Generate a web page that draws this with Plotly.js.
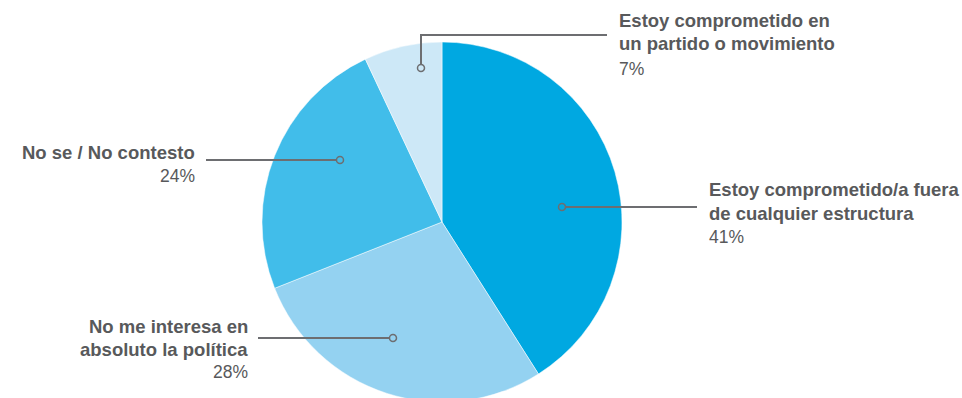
<!DOCTYPE html>
<html>
<head>
<meta charset="utf-8">
<script src="https://cdn.plot.ly/plotly-3.0.1.min.js"></script>
<style>
html,body{margin:0;padding:0;overflow:hidden;background:#fff;}
#chart{width:962px;height:402px;}
</style>
</head>
<body>
<div id="chart"></div>
<script>
// Data
const categories = [
  "Estoy comprometido/a fuera<br>de cualquier estructura",
  "No me interesa en<br>absoluto la política",
  "No se / No contesto",
  "Estoy comprometido en<br>un partido o movimiento"
];
const values = [41, 28, 24, 7];
const colors = ["#00a8e1", "#94d2f1", "#41bdea", "#cde8f7"];

// Layout helpers (pixel -> paper)
const W = 962, H = 402;
const px = x => x / W;
const py = y => 1 - y / H;

const textColor = "#58595b";
const lineColor = "#6d6e71";
const fontFam = "Liberation Sans, Arial, sans-serif";

// Label placement (layout only)
const place = [
  {ax: 562, ay: 207, path: "h", lx: 697, tx: 707, anchor: "left", lines: [189, 213], pct: 237},
  {ax: 393, ay: 338, path: "h", lx: 258, tx: 250, anchor: "right", lines: [326, 349], pct: 372},
  {ax: 340, ay: 160, path: "h", lx: 206, tx: 197, anchor: "right", lines: [152], pct: 176},
  {ax: 421, ay: 68, path: "elbow", ey: 35, lx: 607, tx: 617, anchor: "left", lines: [20, 44], pct: 69}
];

const shapes = [];
const annotations = [];
categories.forEach((cat, i) => {
  const p = place[i];
  let d;
  if (p.path === "elbow") {
    d = `M ${px(p.ax)} ${py(p.ay - 3.5)} L ${px(p.ax)} ${py(p.ey)} L ${px(p.lx)} ${py(p.ey)}`;
  } else {
    const sx = p.lx > p.ax ? p.ax + 3.5 : p.ax - 3.5;
    d = `M ${px(sx)} ${py(p.ay)} L ${px(p.lx)} ${py(p.ay)}`;
  }
  shapes.push({type: "path", xref: "paper", yref: "paper", path: d,
    line: {color: lineColor, width: 2}});
  shapes.push({type: "circle", xref: "paper", yref: "paper",
    x0: px(p.ax - 3.5), x1: px(p.ax + 3.5), y0: py(p.ay + 3.5), y1: py(p.ay - 3.5),
    line: {color: lineColor, width: 1.5}, fillcolor: "rgba(0,0,0,0)"});
  const parts = cat.split("<br>");
  parts.forEach((t, j) => {
    annotations.push({xref: "paper", yref: "paper", x: px(p.tx), y: py(p.lines[j]),
      xanchor: p.anchor, yanchor: "middle", showarrow: false, align: p.anchor,
      text: "<b>" + t + "</b>", font: {family: fontFam, size: 18.5, color: textColor}});
  });
  annotations.push({xref: "paper", yref: "paper", x: px(p.tx), y: py(p.pct),
    xanchor: p.anchor, yanchor: "middle", showarrow: false, align: p.anchor,
    text: values[i] + "%", font: {family: fontFam, size: 17.5, color: textColor}});
});

const trace = {
  type: "pie",
  labels: categories,
  values: values,
  sort: false,
  direction: "clockwise",
  rotation: 0,
  textinfo: "none",
  hoverinfo: "label+percent",
  marker: {colors: colors, line: {color: "#ffffff", width: 0.5}},
  domain: {x: [262 / W, 622 / W], y: [py(402), py(42)]},
  showlegend: false
};

const layout = {
  width: W, height: H,
  margin: {l: 0, r: 0, t: 0, b: 0},
  paper_bgcolor: "#ffffff",
  showlegend: false,
  shapes: shapes,
  annotations: annotations
};

Plotly.newPlot("chart", [trace], layout, {displayModeBar: false, staticPlot: true});
</script>
</body>
</html>
